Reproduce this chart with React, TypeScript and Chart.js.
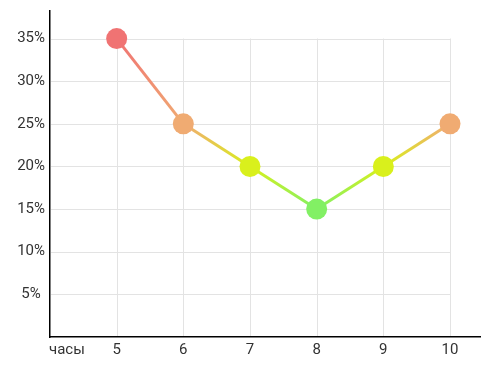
import React, { useEffect, useRef } from 'react';
import { Chart, registerables } from 'chart.js';

Chart.register(...registerables);

const hours = [5, 6, 7, 8, 9, 10];
const shares = [35, 25, 20, 15, 20, 25];
const yTicks = [5, 10, 15, 20, 25, 30, 35];
const xTitle = 'часы';

const levelColors: Record<number, string> = {
  35: '#f07373',
  25: '#f0ab72',
  20: '#d9f01c',
  15: '#82f064',
};

export default function App() {
  const ref = useRef<HTMLCanvasElement>(null);

  useEffect(() => {
    if (!ref.current) return;
    const font = { family: 'Roboto', size: 15 };
    const colorAt = (i: number) => levelColors[shares[i]] || '#999';

    const gridPlugin = {
      id: 'partialGrid',
      beforeDatasetsDraw(chart: any) {
        const { ctx, scales } = chart;
        const x = scales.x;
        const y = scales.y;
        ctx.save();
        ctx.strokeStyle = '#e3e3e3';
        ctx.lineWidth = 1;
        const x0 = x.getPixelForValue(x.min) + 1;
        const x1 = x.getPixelForValue(hours[hours.length - 1]);
        const yTop = y.getPixelForValue(yTicks[yTicks.length - 1]);
        const yBot = y.getPixelForValue(0) - 1;
        ctx.beginPath();
        yTicks.forEach((v) => {
          const py = Math.round(y.getPixelForValue(v)) + 0.5;
          ctx.moveTo(x0, py);
          ctx.lineTo(x1, py);
        });
        hours.forEach((h) => {
          const px = Math.round(x.getPixelForValue(h)) + 0.5;
          ctx.moveTo(px, yTop);
          ctx.lineTo(px, yBot);
        });
        ctx.stroke();
        ctx.restore();
      },
      afterDraw(chart: any) {
        const { ctx, scales } = chart;
        const x = scales.x;
        ctx.save();
        ctx.font = `${font.size}px ${font.family}`;
        ctx.fillStyle = '#333';
        ctx.textAlign = 'left';
        ctx.textBaseline = 'middle';
        ctx.fillText(xTitle, x.left - 1, x.top + 4 + font.size * 0.6);
        ctx.restore();
      },
    };

    const chart = new Chart(ref.current, {
      type: 'line',
      data: {
        datasets: [
          {
            data: hours.map((h, i) => ({ x: h, y: shares[i] })),
            borderWidth: 3,
            tension: 0,
            pointRadius: 10.5,
            pointHoverRadius: 10.5,
            pointBorderWidth: 0,
            pointBackgroundColor: (c: any) => colorAt(c.dataIndex),
            segment: {
              borderColor: (c: any) => {
                const { p0, p1 } = c;
                if (!p0 || !p1 || !isFinite(p0.x) || !isFinite(p1.x)) return colorAt(c.p0DataIndex);
                const g = c.chart.ctx.createLinearGradient(p0.x, p0.y, p1.x, p1.y);
                g.addColorStop(0, colorAt(c.p0DataIndex));
                g.addColorStop(1, colorAt(c.p1DataIndex));
                return g;
              },
            },
          },
        ],
      },
      options: {
        responsive: false,
        animation: false,
        layout: { padding: { top: 8, right: 20, left: 0, bottom: 0 } },
        plugins: { legend: { display: false }, tooltip: { enabled: false } },
        scales: {
          x: {
            type: 'linear',
            min: 4,
            max: 10.45,
            afterBuildTicks: (s: any) => {
              s.ticks = hours.map((v) => ({ value: v }));
            },
            afterFit: (s: any) => {
              s.height = 38;
              s.paddingLeft = 0;
              s.paddingRight = 0;
            },
            ticks: {
              callback: (v: any) => String(v),
              padding: 4,
              color: '#333',
              font,
              maxRotation: 0,
              autoSkip: false,
            },
            grid: { display: false, drawTicks: false },
            border: { color: '#000', width: 1.5 },
          },
          y: {
            min: 0,
            max: 38.29,
            afterBuildTicks: (s: any) => {
              s.ticks = yTicks.map((v) => ({ value: v }));
            },
            afterFit: (s: any) => {
              s.width = 50;
              s.paddingTop = 0;
              s.paddingBottom = 0;
            },
            ticks: {
              callback: (v: any) => v + '%',
              padding: 5,
              crossAlign: 'center',
              color: '#333',
              font: { ...font, lineHeight: 1 },
              autoSkip: false,
            },
            grid: { display: false, drawTicks: false },
            border: { color: '#000', width: 1.5 },
          },
        },
      },
      plugins: [gridPlugin],
    } as any);

    return () => chart.destroy();
  }, []);

  return (
    <div style={{ position: 'fixed', left: 0, top: 0, width: 500, height: 375 }}>
      <canvas ref={ref} width={500} height={375} style={{ width: 500, height: 375 }} />
    </div>
  );
}
